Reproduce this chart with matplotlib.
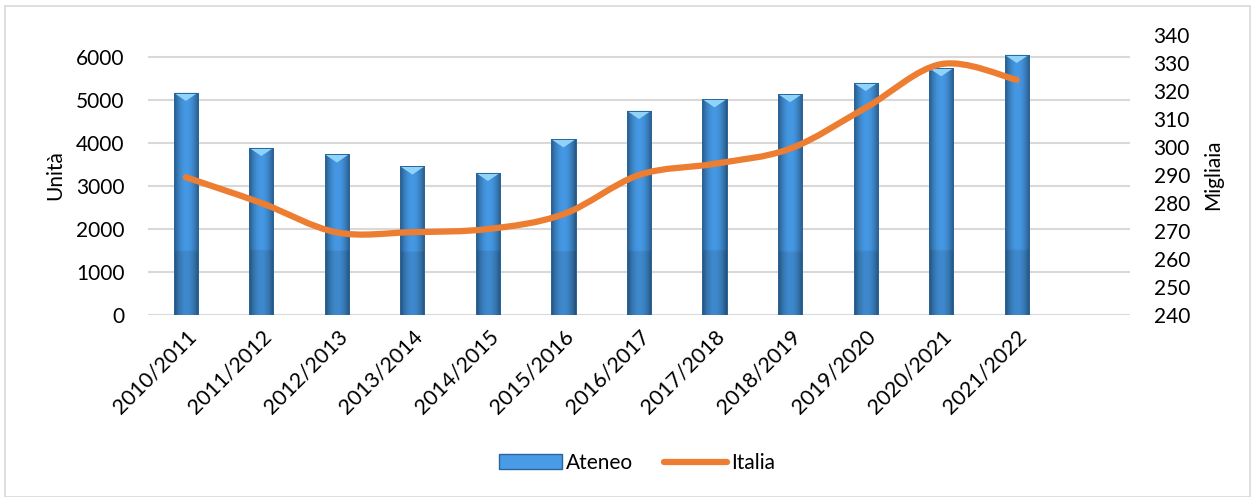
import numpy as np
import matplotlib
matplotlib.use("Agg")
import matplotlib.pyplot as plt
from matplotlib.path import Path
from matplotlib.patches import PathPatch, Polygon, Rectangle, Patch
from matplotlib.lines import Line2D

plt.rcParams['font.family'] = ['Lato', 'DejaVu Sans']

categories = ["2010/2011", "2011/2012", "2012/2013", "2013/2014", "2014/2015",
              "2015/2016", "2016/2017", "2017/2018", "2018/2019", "2019/2020",
              "2020/2021", "2021/2022"]
ateneo = [5160, 3880, 3730, 3450, 3300, 4080, 4740, 5010, 5130, 5390, 5730, 6040]
italia = [289.2, 280.0, 269.5, 269.6, 270.7, 276.0, 290.0, 294.0, 299.4, 314.0, 329.6, 324.0]

left_ticks = [0, 1000, 2000, 3000, 4000, 5000, 6000]
right_ticks = [240, 250, 260, 270, 280, 290, 300, 310, 320, 330, 340]

fig = plt.figure(figsize=(12.56, 4.97), dpi=100)
fig.patches.append(Rectangle((5/1256, 0), 1245/1256, 1 - 6/497, transform=fig.transFigure,
                             fill=False, edgecolor='#d9d9d9', linewidth=1.2))

ax = fig.add_axes([148/1256, 1 - 315/497, (1130-148)/1256, (315-35)/497])
ax2 = ax.twinx()
ax.set_zorder(1)
ax2.set_zorder(2)
ax.patch.set_visible(False)

x = np.arange(len(categories))
w = 0.32
ax.set_xlim(-0.5, 12.5)
ax.set_ylim(0, 6500)
ax2.set_ylim(240, 340)

for yv in left_ticks:
    ax.axhline(yv, color='#d9d9d9', linewidth=1.5, zorder=0)

bars = ax.bar(x, ateneo, width=w, color='#3f8ed8', edgecolor='#2f6da8', linewidth=0.6, zorder=2)

# gradient shading for bars
nx = 40
gx = np.linspace(-1, 1, nx)
shade = 1 - 0.42 * np.abs(gx) ** 2.0
base = np.array([0x45, 0x98, 0xe4]) / 255.0
for rect, v in zip(bars, ateneo):
    x0 = rect.get_x()
    ny = 80
    ys = np.linspace(v, 0, ny)
    img = np.zeros((ny, nx, 3))
    for i, yy in enumerate(ys):
        dark = 0.9 if yy < 1480 else 1.0
        img[i] = np.clip(base[None, :] * shade[:, None] * dark, 0, 1)
    im = ax.imshow(img, extent=[x0, x0 + w, 0, v], aspect='auto', zorder=2.5,
                   interpolation='bilinear')
    im.set_clip_path(rect)
    tri = Polygon([[x0, v], [x0 + w, v], [x0 + w / 2, v - 190]], closed=True,
                  facecolor='#8fd4f8', edgecolor='none', zorder=2.6)
    ax.add_patch(tri)
    ax.add_patch(Rectangle((x0, 0), w, v, fill=False, edgecolor='#2a659c', linewidth=0.7, zorder=2.7))

# smoothed line (Bezier, Excel-like smoothing)
pts = np.column_stack([x, italia]).astype(float)
n = len(pts)
verts = [pts[0]]
codes = [Path.MOVETO]
for i in range(n - 1):
    p0 = pts[i - 1] if i > 0 else pts[i]
    p1 = pts[i]
    p2 = pts[i + 1]
    p3 = pts[i + 2] if i + 2 < n else pts[i + 1]
    c1 = p1 + (p2 - p0) / 6.0
    c2 = p2 - (p3 - p1) / 6.0
    verts += [c1, c2, p2]
    codes += [Path.CURVE4] * 3
path = Path(verts, codes)
ax2.add_patch(PathPatch(path, facecolor='none', edgecolor='#ed7d31', linewidth=4.5,
                        capstyle='round', joinstyle='round', zorder=3))

ax.set_yticks(left_ticks)
ax2.set_yticks(right_ticks)
ax.set_xticks(x)
ax.set_xticklabels(categories, rotation=45, ha='right', va='top', rotation_mode='anchor')
for a in (ax, ax2):
    for s in a.spines.values():
        s.set_visible(False)
ax.tick_params(axis='both', length=0, labelsize=15, colors='black')
ax.tick_params(axis='y', pad=17)
ax.tick_params(axis='x', pad=8, labelsize=15.5)
ax2.tick_params(axis='y', length=0, labelsize=15, pad=17)

fig.text(55/1256, 1 - 175/497, "Unità", rotation=90, ha='center', va='center', fontsize=15)
fig.text(1213/1256, 1 - 175/497, "Migliaia", rotation=90, ha='center', va='center', fontsize=15)

handles = [Patch(facecolor='#4a9be6', edgecolor='#2a659c'),
           Line2D([0], [0], color='#ed7d31', linewidth=4.5, solid_capstyle='round')]
fig.legend(handles, ["Ateneo", "Italia"], loc='center', bbox_to_anchor=(637/1256, 1 - 463/497),
           ncol=2, frameon=False, fontsize=15, handlelength=3.0, handletextpad=0.2,
           columnspacing=1.5)

fig.savefig("out.png", dpi=100)
